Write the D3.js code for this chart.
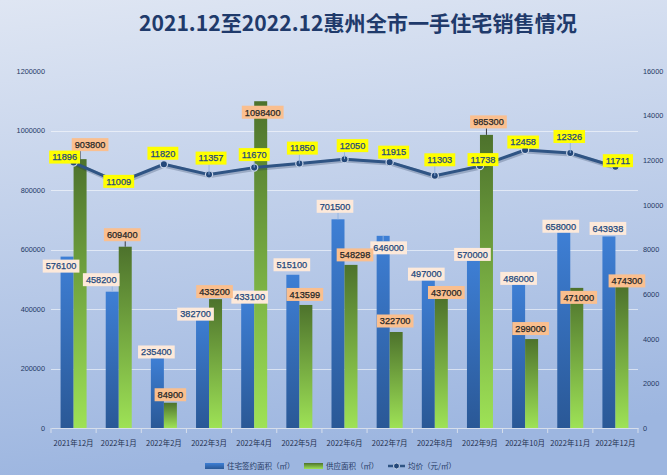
<!DOCTYPE html>
<html><head><meta charset="utf-8">
<script src="https://cdn.jsdelivr.net/npm/d3@7"></script>
<style>
html,body{margin:0;padding:0;overflow:hidden;background:#fff}
svg{display:block}
</style></head>
<body><svg id="chart" width="667" height="475"></svg>
<script>
// ---------- data ----------
const title = "2021.12至2022.12惠州全市一手住宅销售情况";
const categories = ["2021年12月","2022年1月","2022年2月","2022年3月","2022年4月","2022年5月","2022年6月","2022年7月","2022年8月","2022年9月","2022年10月","2022年11月","2022年12月"];
const signedArea = [576100,458200,235400,382700,433100,515100,701500,646000,497000,570000,486000,658000,643938];
const supplyArea = [903800,609400,84900,433200,1098400,413599,548298,322700,437000,985300,299000,471000,474300];
const avgPrice = [11896,11009,11820,11357,11670,11850,12050,11915,11303,11738,12458,12326,11711];
const leftTicks = [0,200000,400000,600000,800000,1000000,1200000];
const rightTicks = [0,2000,4000,6000,8000,10000,12000,14000,16000];
const seriesNames = ["住宅签约面积（㎡）","供应面积（㎡）","均价（元/㎡）"];
// label offsets (px) relative to each mark's anchor, as placed in the original chart
const signedLabelOffset = [[-6,9.5],[-11,-12],[-1,-6],[-7,0],[2,-2],[-1,-10],[-3,-13],[5.5,12],[-2,-6],[-1,-4],[0,-5],[-3,-6],[-1,-8]];
const supplyLabelOffset = [[10,-14.5],[-3,-12],[0,-8],[-1,-7.5],[2,11],[-1,-10.5],[4,-10],[-1,-11],[5,-5.5],[2,-13],[-1,-10.5],[2,9.5],[5,-6]];
const priceLabelOffset = [[-9,-5.5],[0,-1],[-1,-11],[2,-16.5],[0,-13],[3,-15.5],[8,-13.5],[4,-10],[5,-16],[3,-6.5],[-2,-8],[-1,-16.5],[2.5,-6]];

// ---------- layout ----------
const svg = d3.select("#chart");
const W = 667, H = 475;
const plot = {left:51, right:638, top:71, bottom:428};
const fontCJK = "'Noto Sans CJK SC','Noto Sans',sans-serif";
const fontNum = "'Liberation Sans','Noto Sans',sans-serif";

const defs = svg.append("defs");
const bg = defs.append("linearGradient").attr("id","bg").attr("x1",0).attr("y1",0).attr("x2",0.15).attr("y2",1);
bg.append("stop").attr("offset","0%").attr("stop-color","#dfe6f3");
bg.append("stop").attr("offset","100%").attr("stop-color","#9db6e0");
const gBlue = defs.append("linearGradient").attr("id","gBlue").attr("x1",0).attr("y1",0).attr("x2",0).attr("y2",1);
gBlue.append("stop").attr("offset","0%").attr("stop-color","#3e7fd5");
gBlue.append("stop").attr("offset","100%").attr("stop-color","#2a5896");
const gGreen = defs.append("linearGradient").attr("id","gGreen").attr("x1",0).attr("y1",0).attr("x2",0).attr("y2",1);
gGreen.append("stop").attr("offset","0%").attr("stop-color","#4d722c");
gGreen.append("stop").attr("offset","100%").attr("stop-color","#9ee256");

svg.append("rect").attr("width",W).attr("height",H).attr("fill","url(#bg)");

// ---------- scales ----------
const x = d3.scaleBand().domain(categories).range([plot.left, plot.right]).padding(0);
const x1 = d3.scaleBand().domain([0,1]).range([0, 26]);
const groupOffset = (x.bandwidth() - 26) / 2;
const yL = d3.scaleLinear().domain([0,1200000]).range([plot.bottom, plot.top]);
const yR = d3.scaleLinear().domain([0,16000]).range([plot.bottom, plot.top]);

// ---------- title ----------
svg.append("text").attr("x",358).attr("y",31).attr("text-anchor","middle")
  .attr("font-family",fontCJK).attr("font-size",21).attr("font-weight","bold")
  .attr("textLength",438).attr("lengthAdjust","spacingAndGlyphs")
  .attr("fill","#1f3a6b").text(title);

// ---------- gridlines ----------
svg.append("g").selectAll("line").data(leftTicks.filter(d => d > 0 && d < 1200000)).join("line")
  .attr("x1",plot.left).attr("x2",plot.right)
  .attr("y1",d => Math.round(yL(d))+0.5).attr("y2",d => Math.round(yL(d))+0.5)
  .attr("stroke","#ffffff").attr("stroke-opacity",0.55).attr("stroke-width",1);

// ---------- axes ----------
const axisL = svg.append("g").attr("transform",`translate(${plot.left-6},0)`)
  .call(d3.axisLeft(yL).tickValues(leftTicks).tickSize(0).tickPadding(0).tickFormat(d3.format("d")));
axisL.select(".domain").remove();
axisL.selectAll("text").attr("font-family",fontNum).attr("font-size",7.3).attr("fill","#1f3864");

const axisR = svg.append("g").attr("transform",`translate(${plot.right+5},0)`)
  .call(d3.axisRight(yR).tickValues(rightTicks).tickSize(0).tickPadding(0).tickFormat(d3.format("d")));
axisR.select(".domain").remove();
axisR.selectAll("text").attr("font-family",fontNum).attr("font-size",7.3).attr("fill","#1f3864");

const axisB = svg.append("g").attr("transform",`translate(0,${plot.bottom})`)
  .call(d3.axisBottom(x).tickSize(0).tickPadding(13));
axisB.select(".domain").attr("stroke","#d6deec").attr("stroke-width",1);
axisB.selectAll("text").attr("font-family",fontCJK).attr("font-size",7.5).attr("fill","#1f2f4f");
// category separators
svg.append("g").selectAll("line").data(d3.range(categories.length+1)).join("line")
  .attr("x1",i => plot.left + i*x.bandwidth()).attr("x2",i => plot.left + i*x.bandwidth())
  .attr("y1",plot.bottom).attr("y2",plot.bottom+5)
  .attr("stroke","#d6deec").attr("stroke-width",1);

// ---------- bars ----------
const bars = svg.append("g");
bars.selectAll("rect.blue").data(signedArea).join("rect").attr("class","blue")
  .attr("x",(d,i) => x(categories[i]) + groupOffset + x1(0))
  .attr("width",x1.bandwidth())
  .attr("y",d => yL(d)).attr("height",d => plot.bottom - yL(d))
  .attr("fill","url(#gBlue)");
bars.selectAll("rect.green").data(supplyArea).join("rect").attr("class","green")
  .attr("x",(d,i) => x(categories[i]) + groupOffset + x1(1))
  .attr("width",x1.bandwidth())
  .attr("y",d => yL(d)).attr("height",d => plot.bottom - yL(d))
  .attr("fill","url(#gGreen)");

// ---------- line ----------
const cx = (d,i) => x(categories[i]) + x.bandwidth()/2;
const line = d3.line().x((d,i) => cx(d,i)).y(d => yR(d));
svg.append("path").datum(avgPrice).attr("d",line).attr("fill","none")
  .attr("stroke","#1c3150").attr("stroke-opacity",0.25).attr("stroke-width",4.5)
  .attr("transform","translate(0.8,1.2)").attr("stroke-linejoin","round");
svg.append("path").datum(avgPrice).attr("d",line).attr("fill","none")
  .attr("stroke","#2f5484").attr("stroke-width",3).attr("stroke-linejoin","round");
svg.append("g").selectAll("circle").data(avgPrice).join("circle")
  .attr("cx",cx).attr("cy",d => yR(d)).attr("r",3.6)
  .attr("fill","#24487a").attr("stroke","#c9d5e8").attr("stroke-width",1.2);

// ---------- data labels ----------
const labelLayer = svg.append("g");
function drawLabels(values, anchorX, anchorY, offsets, boxFill, textFill, leaderColor){
  values.forEach((v,i) => {
    const ax = anchorX(i), ay = anchorY(v);
    const lx = ax + offsets[i][0], ly = ay + offsets[i][1];
    const g = labelLayer.append("g");
    const rect = g.append("rect").attr("fill",boxFill);
    const t = g.append("text").attr("x",lx).attr("y",ly+3.3).attr("text-anchor","middle")
      .attr("font-family",fontNum).attr("font-size",9.2).attr("fill",textFill)
      .attr("stroke",textFill).attr("stroke-width",0.25).text(String(v));
    const w = t.node().getComputedTextLength() + 6, h = 13;
    rect.attr("x",lx - w/2).attr("y",ly - h/2).attr("width",w).attr("height",h);
    // leader line when label is pulled away from its mark
    const nx = Math.max(lx - w/2, Math.min(ax, lx + w/2));
    const ny = Math.max(ly - h/2, Math.min(ay, ly + h/2));
    const gap = Math.hypot(ax - nx, ay - ny);
    if (gap > 5) {
      labelLayer.insert("line", ":first-child").attr("x1",nx).attr("y1",ny).attr("x2",ax).attr("y2",ay)
        .attr("stroke",leaderColor).attr("stroke-width",0.9);
    }
  });
}
drawLabels(signedArea, i => x(categories[i]) + groupOffset + x1(0) + x1.bandwidth()/2, v => yL(v),
  signedLabelOffset, "#fde9da", "#1f497d", "#8fb2e0");
drawLabels(supplyArea, i => x(categories[i]) + groupOffset + x1(1) + x1.bandwidth()/2, v => yL(v),
  supplyLabelOffset, "#fabf8f", "#262626", "#2b2b2b");
drawLabels(avgPrice, i => x(categories[i]) + x.bandwidth()/2, v => yR(v),
  priceLabelOffset, "#ffff00", "#1f497d", "#8fb2e0");

// ---------- legend ----------
const lg = svg.append("g").attr("font-family",fontCJK).attr("font-size",7.5).attr("fill","#1f3864");
lg.append("rect").attr("x",205).attr("y",463).attr("width",19).attr("height",6).attr("fill","url(#gBlue)");
lg.append("text").attr("x",227).attr("y",469).text(seriesNames[0]);
lg.append("rect").attr("x",304).attr("y",463).attr("width",19).attr("height",6).attr("fill","url(#gGreen)");
lg.append("text").attr("x",326).attr("y",469).text(seriesNames[1]);
lg.append("line").attr("x1",388).attr("x2",405).attr("y1",466).attr("y2",466).attr("stroke","#2f5484").attr("stroke-width",2.5);
lg.append("circle").attr("cx",396.5).attr("cy",466).attr("r",3).attr("fill","#24487a").attr("stroke","#c9d5e8").attr("stroke-width",1);
lg.append("text").attr("x",408).attr("y",469).text(seriesNames[2]);
</script>
</body></html>
